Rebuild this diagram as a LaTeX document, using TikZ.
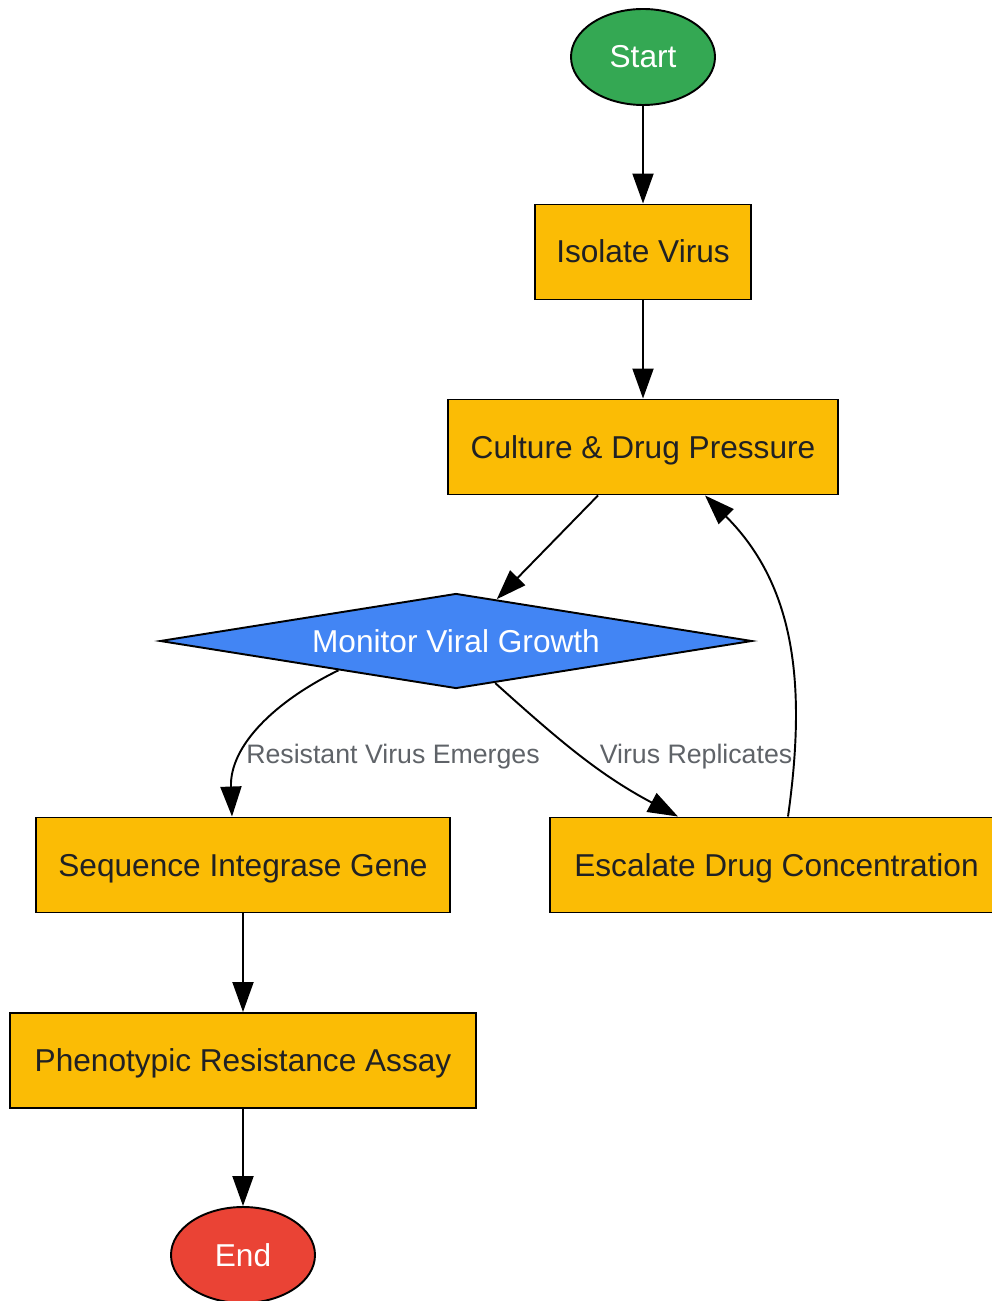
\documentclass[tikz,border=0pt]{standalone}
\usepackage{fontspec}
\setmainfont{Liberation Sans}
\usepackage{xcolor}
\usepackage{tikz}
\usetikzlibrary{shapes.geometric, arrows.meta, positioning}

\definecolor{gGreen}{HTML}{34A853}
\definecolor{gYellow}{HTML}{FBBC05}
\definecolor{gBlue}{HTML}{4285F4}
\definecolor{gRed}{HTML}{EA4335}
\definecolor{darkText}{HTML}{202124}
\definecolor{labelGray}{HTML}{5F6368}

\begin{document}
\begin{tikzpicture}[every node/.style={font=\fontsize{18}{21}\selectfont, text height=0.56cm, text depth=0.12cm},
  procbox/.style={draw, rectangle, fill=gYellow, text=darkText, line width=1.1pt, inner sep=0pt, minimum height=1.9cm},
  terminal/.style={draw, ellipse, text=white, line width=1.1pt, inner sep=0pt, minimum width=2.88cm, minimum height=1.92cm},
  decision/.style={draw, diamond, fill=gBlue, text=white, line width=1.1pt, inner sep=0pt, aspect=6.2, minimum width=11.84cm, minimum height=1.9cm},
  edgelabel/.style={text=labelGray, font=\fontsize{15.2}{17}\selectfont, text height=0.47cm, text depth=0.1cm},
  flow/.style={-{Triangle[length=0.6cm, width=0.42cm]}, line width=1.1pt}]
\useasboundingbox[fill=white] (0,0) rectangle (19.84,-26.02);
\node[terminal, fill=gGreen] (start) at (12.86,-1.14) {Start};
\node[procbox, minimum width=4.32cm] (isolate) at (12.86,-5.04) {Isolate Virus};
\node[procbox, minimum width=7.8cm] (culture) at (12.86,-8.94) {Culture \& Drug Pressure};
\node[decision] (monitor) at (9.12,-12.82) {Monitor Viral Growth};
\node[procbox, minimum width=8.28cm] (sequence) at (4.86,-17.3) {Sequence Integrase Gene};
\node[procbox, minimum width=9.06cm] (escalate) at (15.53,-17.3) {Escalate Drug Concentration};
\node[procbox, minimum width=9.32cm] (assay) at (4.86,-21.21) {Phenotypic Resistance Assay};
\node[terminal, fill=gRed] (end) at (4.86,-25.1) {End};
\node[edgelabel] (lresist) at (7.86,-15.08) {Resistant Virus Emerges};
\node[edgelabel] (lreplic) at (13.92,-15.08) {Virus Replicates};
\draw[flow] (start) -- (isolate);
\draw[flow] (isolate) -- (culture);
\draw[flow] ([xshift=-0.9cm]culture.south) -- (monitor);
\draw[flow] (monitor.194) to[out=206, in=92] ([xshift=-0.22cm]sequence.north);
\draw[flow] (monitor.313) to[out=-42, in=152] ([xshift=-1.97cm]escalate.north);
\draw[flow] ([xshift=0.23cm]escalate.north) to[out=82, in=-45] ([xshift=1.24cm]culture.south);
\draw[flow] (sequence) -- (assay);
\draw[flow] (assay) -- (end);
\end{tikzpicture}
\end{document}
